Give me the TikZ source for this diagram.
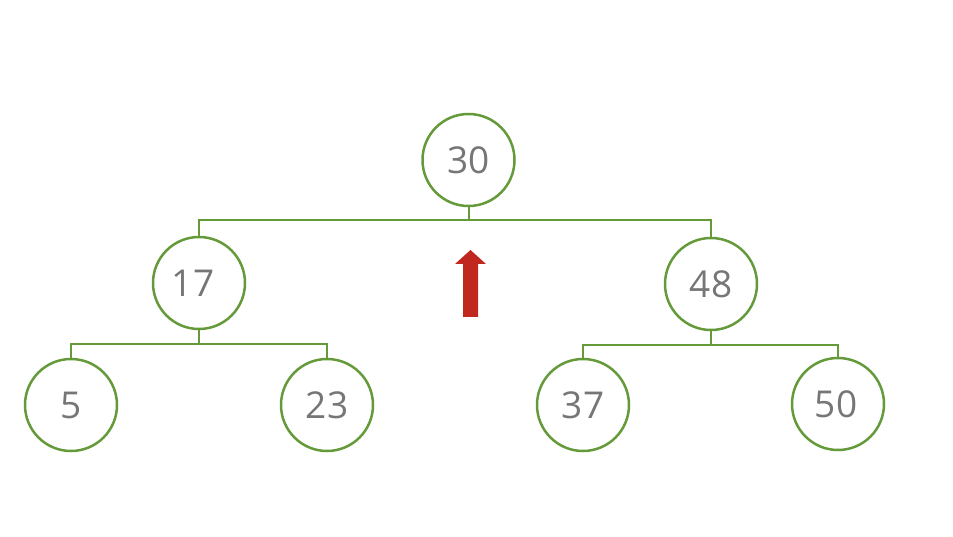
\documentclass[tikz,border=0pt]{standalone}
\usepackage{fontspec}
\setmainfont{Open Sans}
\definecolor{tgreen}{HTML}{649A3A}
\definecolor{tgray}{HTML}{767676}
\definecolor{tred}{HTML}{C0281F}
\begin{document}
\begin{tikzpicture}[x=1pt,y=-1pt,
  tnode/.style={circle,draw=tgreen,line width=2.5pt,minimum size=92pt,inner sep=0pt,text=tgray,font=\fontsize{37}{39}\selectfont},
  conn/.style={draw=tgreen,line width=2pt}]
\useasboundingbox (0,0) rectangle (953,537);
\node[tnode] (n30) at (468.5,160) {30};
\node[tnode] (n17) at (199,283) {\hspace*{-12pt}17};
\node[tnode] (n48) at (711,284) {48};
\node[tnode] (n5) at (71,405) {5};
\node[tnode] (n23) at (327,405) {23};
\node[tnode] (n37) at (583,405) {37};
\node[tnode] (n50) at (838,404) {\hspace*{-4pt}50};
\draw[conn] (n30.south) -- ++(0,13) coordinate (b30);
\draw[conn] (n17.north) |- (b30) -| (n48.north);
\draw[conn] (n17.south) -- ++(0,14) coordinate (b17);
\draw[conn] (n5.north) |- (b17) -| (n23.north);
\draw[conn] (n48.south) -- ++(0,14) coordinate (b48);
\draw[conn] (n37.north) |- (b48) -| (n50.north);
\fill[tred] (463,317) -- (478,317) -- (478,264) -- (486,264) -- (470.5,250) -- (455,264) -- (463,264) -- cycle;
\end{tikzpicture}
\end{document}
